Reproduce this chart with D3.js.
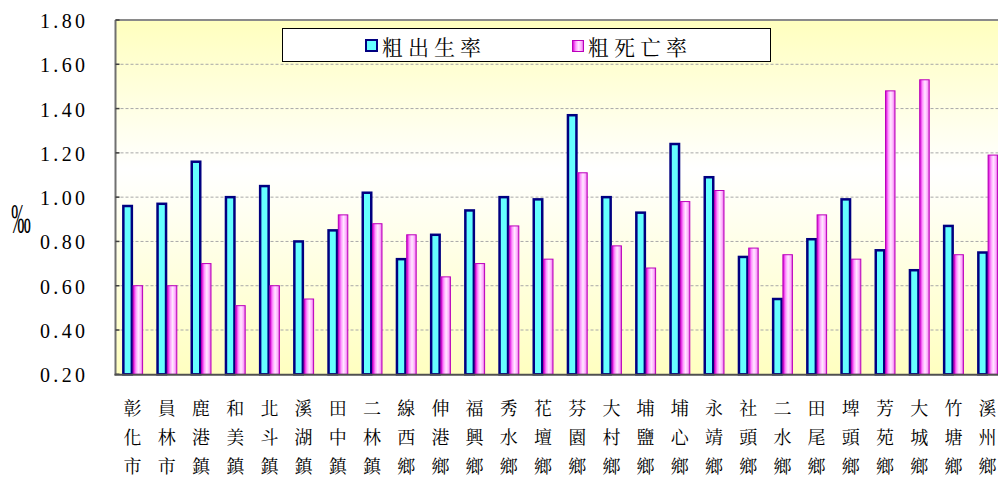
<!DOCTYPE html>
<html><head><meta charset="utf-8">
<script src="https://cdn.jsdelivr.net/npm/d3@7"></script>
<style>body{margin:0;background:#fff;}svg{display:block;}.sf{font-family:"Liberation Serif","Times New Roman","DejaVu Serif",serif;}.cj{font-family:"Noto Serif CJK TC","Noto Sans CJK TC",serif;}</style>
</head><body>
<svg id="c" width="998" height="477"></svg>
<script>
const categories = ["彰化市","員林市","鹿港鎮","和美鎮","北斗鎮","溪湖鎮","田中鎮","二林鎮","線西鄉","伸港鄉","福興鄉","秀水鄉","花壇鄉","芬園鄉","大村鄉","埔鹽鄉","埔心鄉","永靖鄉","社頭鄉","二水鄉","田尾鄉","埤頭鄉","芳苑鄉","大城鄉","竹塘鄉","溪州鄉"];
const birthRate = [0.96,0.97,1.16,1.00,1.05,0.80,0.85,1.02,0.72,0.83,0.94,1.00,0.99,1.37,1.00,0.93,1.24,1.09,0.73,0.54,0.81,0.99,0.76,0.67,0.87,0.75];
const deathRate = [0.60,0.60,0.70,0.51,0.60,0.54,0.92,0.88,0.83,0.64,0.70,0.87,0.72,1.11,0.78,0.68,0.98,1.03,0.77,0.74,0.92,0.72,1.48,1.53,0.74,1.19];
const yTicks = [0.20,0.40,0.60,0.80,1.00,1.20,1.40,1.60,1.80];
const seriesNames = ["粗出生率","粗死亡率"];

(function(){
const svg = d3.select("#c");
const pLeft = 115.5, pTop = 20, pBottom = 374.3, bandW = 34.2;
const x = d3.scaleBand().domain(categories).range([pLeft, pLeft + bandW*categories.length]).padding(0);
const y = d3.scaleLinear().domain([0.2,1.8]).range([pBottom, pTop]);

const defs = svg.append("defs");
const bg = defs.append("linearGradient").attr("id","bg").attr("x1",0).attr("y1",0).attr("x2",0).attr("y2",1);
[[0,"#FFFFBE"],[0.42,"#FFFFFF"],[1,"#FFFFC0"]].forEach(s=>bg.append("stop").attr("offset",s[0]).attr("stop-color",s[1]));
const pg = defs.append("linearGradient").attr("id","pg").attr("x1",0).attr("y1",0).attr("x2",1).attr("y2",0);
[[0,"#C000C0"],[0.15,"#EE44EE"],[0.3,"#FF99FF"],[0.55,"#FFE8FF"],[0.8,"#FFB0FF"],[1,"#DD55DD"]].forEach(s=>pg.append("stop").attr("offset",s[0]).attr("stop-color",s[1]));

svg.append("rect").attr("x",pLeft).attr("y",pTop).attr("width",998-pLeft).attr("height",pBottom-pTop).attr("fill","url(#bg)");

svg.append("g").selectAll("line").data(yTicks.filter(t=>t>0.21 && t<1.79)).join("line")
  .attr("x1",pLeft).attr("x2",998).attr("y1",d=>y(d)).attr("y2",d=>y(d))
  .attr("stroke","#A8A8A8").attr("stroke-width",1).attr("stroke-dasharray","3,2");

svg.append("line").attr("x1",pLeft).attr("x2",998).attr("y1",pTop).attr("y2",pTop).attr("stroke","#8A8A8A").attr("stroke-width",2);

const cx = d => x(d) + x.bandwidth()/2;
svg.append("g").selectAll("rect").data(categories).join("rect")
  .attr("x",(d)=>cx(d)-10.5+1.25).attr("width",11-2.5)
  .attr("y",(d,i)=>y(birthRate[i])).attr("height",(d,i)=>pBottom-y(birthRate[i]))
  .attr("fill","#66FFFF").attr("stroke","#000080").attr("stroke-width",2.5);
svg.append("g").selectAll("rect").data(categories).join("rect")
  .attr("x",(d)=>cx(d)+0.5).attr("width",9.5)
  .attr("y",(d,i)=>y(deathRate[i])).attr("height",(d,i)=>pBottom-y(deathRate[i]))
  .attr("fill","url(#pg)").attr("stroke","#BB00BB").attr("stroke-width",1);

svg.append("line").attr("x1",pLeft).attr("x2",pLeft).attr("y1",pTop).attr("y2",pBottom+1).attr("stroke","#707070").attr("stroke-width",2);
svg.append("g").selectAll("line").data(yTicks).join("line")
  .attr("x1",pLeft).attr("x2",pLeft+4).attr("y1",d=>y(d)).attr("y2",d=>y(d)).attr("stroke","#404040").attr("stroke-width",1.5);
svg.append("line").attr("x1",pLeft-1).attr("x2",998).attr("y1",pBottom+0.5).attr("y2",pBottom+0.5).attr("stroke","#505050").attr("stroke-width",2);

svg.append("g").selectAll("text").data(yTicks).join("text")
  .attr("class","sf")
  .attr("x",85).attr("y",d=>y(d)+1).attr("text-anchor","end").attr("dominant-baseline","central")
  .attr("font-size",20).attr("fill","#000")
  .attr("textLength",45).attr("lengthAdjust","spacing")
  .text(d=>d3.format(".2f")(d));

svg.append("text").attr("class","sf").attr("transform","translate(21,219) scale(0.75,1.6)")
  .attr("text-anchor","middle").attr("dominant-baseline","central")
  .attr("font-size",26).text("‰");

const xl = svg.append("g");
categories.forEach(c=>{
  [...c].forEach((ch,j)=>{
    xl.append("text").attr("class","cj").attr("x",cx(c)).attr("y",407+j*29).attr("text-anchor","middle").attr("dominant-baseline","central")
      .attr("font-size",18).attr("fill","#000").text(ch);
  });
});

const lg = svg.append("g");
lg.append("rect").attr("x",282.5).attr("y",28.5).attr("width",488).attr("height",33).attr("fill","#fff").attr("stroke","#000").attr("stroke-width",1);
lg.append("rect").attr("x",366).attr("y",40).attr("width",11).attr("height",11).attr("fill","#66FFFF").attr("stroke","#000080").attr("stroke-width",2);
lg.append("rect").attr("x",572.5).attr("y",40.5).attr("width",11).attr("height",11).attr("fill","url(#pg)").attr("stroke","#BB00BB").attr("stroke-width",1);
[[382,seriesNames[0]],[588,seriesNames[1]]].forEach(([lx,t])=>{
  lg.append("text").attr("class","cj").attr("x",lx).attr("y",46).attr("dominant-baseline","central")
    .attr("font-size",21).attr("letter-spacing",5).text(t);
});
})();
</script>
</body></html>
